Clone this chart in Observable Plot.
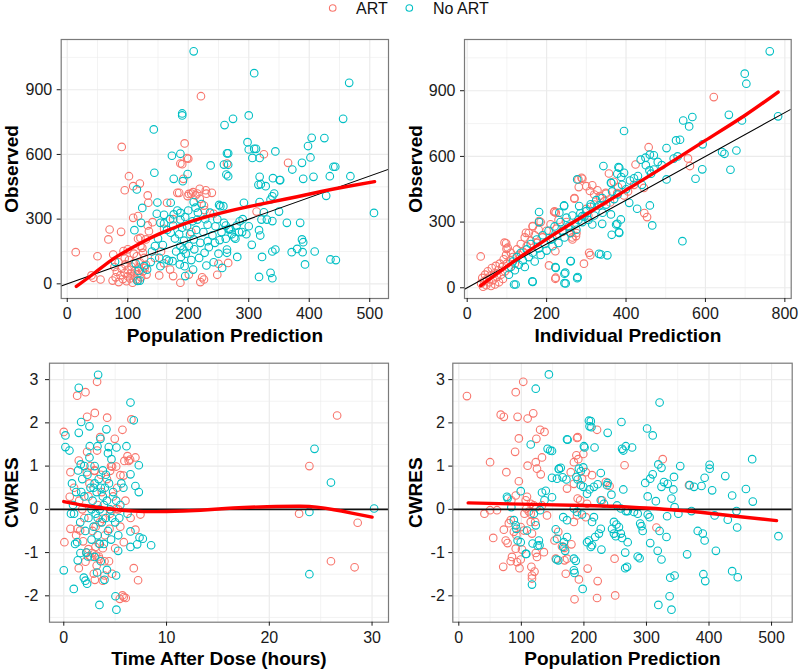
<!DOCTYPE html>
<html><head><meta charset="utf-8">
<script src="https://cdn.jsdelivr.net/npm/d3@7"></script>
<script src="https://cdn.jsdelivr.net/npm/@observablehq/plot@0.6"></script>
<style>
body{margin:0;background:#fff;font-family:"Liberation Sans",Arial,sans-serif;}
#wrap{position:relative;width:800px;height:671px;overflow:hidden;}
.panel{position:absolute;}
#legend{position:absolute;top:0;left:0;}
</style></head><body>
<div id="wrap">
<svg id="legend" width="800" height="22" font-family="Liberation Sans, Arial, sans-serif">
  <circle cx="332.7" cy="8" r="3.3" fill="none" stroke="#F8766D" stroke-width="1.1"></circle>
  <text x="356" y="13.6" font-size="16" fill="#111">ART</text>
  <circle cx="409.3" cy="8" r="3.3" fill="none" stroke="#00BFC4" stroke-width="1.1"></circle>
  <text x="433" y="13.6" font-size="16" fill="#111">No ART</text>
</svg>
</div>
<script>
// ---------- categories / labels ----------
const groups = ["ART", "No ART"];
const groupColors = ["#F8766D", "#00BFC4"];

// ---------- tick values ----------
const obsTicks = [0, 300, 600, 900];
const obsMinor = [150, 450, 750, 1050];
const predTicks = [0, 100, 200, 300, 400, 500];
const predMinor = [50, 150, 250, 350, 450];
const ipredTicks = [0, 200, 400, 600, 800];
const ipredMinor = [100, 300, 500, 700];
const tadTicks = [0, 10, 20, 30];
const tadMinor = [5, 15, 25];
const cwresTicks = [-2, -1, 0, 1, 2, 3];
const cwresMinor = [-2.5, -1.5, -0.5, 0.5, 1.5, 2.5];

// ---------- Panel 1: Observed vs Population Prediction ----------
const p1Art = [[14,147],[50,128],[40,39],[43,28],[55,20],[68,206],[70,252],[89,241],[90,635],[102,499],[95,434],[109,453],[120,465],[133,410],[134,376],[76,136],[93,152],[109,306],[117,314],[117,209],[121,213],[121,175],[124,167],[125,144],[135,244],[133,271],[141,286],[130,206],[152,39],[165,376],[182,422],[185,422],[192,487],[194,651],[187,558],[198,583],[199,407],[205,419],[208,425],[215,419],[219,394],[229,434],[239,422],[221,870],[223,30],[226,20],[187,5],[201,43],[128,74],[131,43],[117,17],[170,66],[175,36],[227,342],[248,42],[250,93],[266,97],[264,558],[313,335],[325,601],[365,561],[190,555],[200,580],[220,8],
[75,15],[80,30],[82,55],[85,8],[88,40],[90,70],[92,22],[95,50],[96,90],[98,12],[100,35],[100,65],[102,110],[104,25],[105,48],[106,80],[108,5],[110,38],[110,95],[112,60],[114,20],[115,128],[116,45],[118,75],[120,100],[122,30],[125,58],[127,120],[130,88],[100,160],[95,118],[110,140],[85,100],[78,78],[155,150],[160,95],[145,120],
[201,417],[212,410],[219,441],[230,418],[226,363],[242,325],[175,300],[160,255],[205,240]];
const p1NoArt = [[209,1078],[190,790],[190,781],[143,716],[260,736],[173,594],[187,603],[199,509],[191,476],[176,487],[144,515],[237,549],[259,553],[264,605],[263,507],[115,438],[149,377],[171,376],[176,322],[187,329],[209,379],[212,353],[251,366],[253,360],[124,352],[122,283],[111,249],[148,325],[154,283],[160,280],[171,237],[187,298],[198,267],[215,298],[232,274],[245,267],[259,283],[252,203],[232,198],[209,206],[201,175],[187,175],[192,159],[164,113],[168,107],[152,121],[174,105],[186,90],[194,82],[195,36],[208,66],[227,144],[242,100],[256,74],[264,159],[116,14],[113,94],[138,101],[79,102],[127,82],[132,66],[154,82],
[309,977],[466,932],[456,765],[274,765],[300,781],[404,677],[425,676],[398,639],[298,657],[300,623],[309,626],[312,626],[306,584],[318,584],[344,614],[266,605],[402,586],[388,561],[372,530],[440,543],[443,543],[468,499],[407,496],[390,487],[434,499],[318,496],[340,490],[351,481],[352,481],[316,459],[320,462],[328,453],[428,408],[266,552],[266,499],[342,419],[339,406],[336,391],[318,379],[292,376],[350,335],[507,329],[363,283],[385,283],[330,298],[339,291],[321,298],[325,332],[267,252],[270,252],[300,267],[317,249],[319,224],[284,240],[289,240],[278,209],[305,181],[322,125],[281,125],[339,150],[344,159],[371,147],[380,162],[388,206],[390,193],[409,150],[389,147],[393,90],[435,113],[444,110],[317,32],[336,51],[339,26],[262,209],[264,144],
[160,320],[165,250],[170,300],[175,270],[178,210],[180,150],[182,340],[185,230],[188,125],[190,260],[193,200],[195,310],[196,140],[200,340],[203,230],[205,110],[207,290],[210,160],[213,250],[216,330],[218,120],[220,190],[222,370],[225,240],[228,300],[230,85],[234,170],[236,330],[240,225],[244,190],[248,300],[250,140],[255,240],[258,360],[262,270],[268,255],[272,230],[276,215],[280,270],[285,290],[290,300],[296,230],[140,150],[145,175],[150,210],[158,180],[118,60],[120,15]];
const p1Smooth = [[15,-12],[44,48],[72,108],[99,155],[127,198],[154,234],[182,266],[209,293],[237,316],[265,336],[300,358],[340,381],[380,404],[420,428],[460,450],[508,474]];

// ---------- Panel 2: Observed vs Individual Prediction ----------
const p2Art = [[34,143],[94,206],[99,178],[220,349],[270,410],[288,502],[281,460],[310,149],[294,110],[222,41],[457,642],[424,563],[445,456],[446,341],[453,323],[621,871],[556,591],[561,556],[357,522],[369,484],[315,468],[328,445],[378,432],[395,422],[206,102],
[98,203],[102,183],[148,251],[165,282],[181,305],[223,343],[222,167],[223,46],[219,346],[270,407],[280,495],[290,498],[300,464],[309,442],[320,426],[334,419],[349,434],[261,251],[274,236],[307,160],[265,221],
[35,20],[38,45],[40,5],[42,30],[45,60],[48,12],[50,40],[52,75],[55,25],[58,55],[60,8],[62,90],[65,35],[68,65],[70,15],[72,100],[75,50],[78,80],[80,25],[82,110],[85,60],[88,95],[90,40],[92,130],[95,75],[98,150],[100,110],[105,90],[108,125],[110,160],[115,140],[120,110],[125,175],[130,150],[135,200],[140,165],[145,230],[150,190],[155,250],[160,215],[165,280],[170,240],[175,205],[180,265],[185,300],[190,230],[200,260],[210,290],[215,225],[225,270],[230,310],[240,255],[250,300],[260,275],[265,230],[275,250],[300,360],[305,330],[320,380],[335,410],[345,395],[350,430],[360,390],[380,460],[405,440],[420,470]];
const p2NoArt = [[762,1080],[699,978],[703,932],[783,783],[659,790],[692,764],[567,780],[544,764],[559,737],[395,716],[593,655],[502,638],[526,673],[536,676],[642,620],[648,612],[678,627],[663,539],[592,541],[575,498],[502,495],[459,536],[463,521],[460,608],[470,605],[437,585],[449,594],[542,213],[460,376],[466,285],[428,361],[378,292],[382,254],[364,242],[332,155],[353,148],[340,292],[315,289],[277,44],[245,21],[245,64],[260,122],[222,94],[164,29],[122,15],[343,556],[381,551],[363,478],[277,495],[244,373],[378,521],[388,506],
[362,480],[383,548],[395,525],[379,426],[375,289],[383,251],[337,152],[261,122],[247,69],[248,20],[278,49],[223,91],[165,27],[118,15],[181,346],[181,300],[244,376],[232,343],[282,373],[290,327],[311,381],[332,376],[341,343],[362,335],[387,312],[408,388],
[105,60],[110,95],[115,120],[120,80],[125,140],[130,105],[135,160],[140,125],[145,95],[150,175],[155,140],[160,200],[165,160],[170,120],[175,220],[180,180],[185,150],[190,240],[195,200],[200,170],[205,260],[210,220],[215,190],[220,280],[225,240],[230,205],[235,300],[240,260],[245,230],[250,320],[255,280],[260,250],[265,330],[270,290],[275,265],[280,310],[285,340],[290,300],[295,325],[300,350],[305,310],[310,370],[320,330],[325,400],[340,410],[350,380],[365,440],[370,405],[390,470],[400,450],[410,490],[420,500],[430,510],[440,470],[450,560],[470,540],[480,575],[490,560],[520,590],[530,600]];
const p2Smooth = [[34,10],[100,98],[200,222],[300,336],[400,446],[500,558],[600,673],[700,788],[783,894]];

// ---------- Panel 3: CWRES vs Time After Dose ----------
const p3Art = [[26.6,2.17],[23.9,1.00],[22.9,-0.10],[28.6,-0.31],[26.0,-1.20],[28.3,-1.34],
[3.24,2.95],[1.30,2.63],[2.11,2.71],[6.58,2.08],[3.02,2.23],[2.27,2.14],[4.22,2.12],[0,1.79],[5.71,1.84],[4.96,1.63],[2.27,1.33],[3.24,1.36],[6.97,1.20],[6.2,1.23],[5.9,1.12],[6.32,1.12],[1.46,1.13],[4.70,0.99],[0.65,0.86],[5.51,0.79],[0.58,0.29],[0.65,-0.45],[7.46,-0.12],[6.97,-0.47],[0.06,-0.76],[1.88,-0.74],[5.84,-0.76],[6.81,-1.36],[7.23,-1.64],[1.46,-1.36],[3.02,-1.63],[2.92,-1.49],[3.96,-1.53],[4.70,-1.49],[5.45,-2.07],[5.84,-2.03],[6.03,-2.05],[5.71,-1.99],[3.96,-1.20],[3.41,-1.09],[2.59,-1.10],[3.08,-0.87],[3.41,-0.79],
[2.24,0.86],[2.99,0.89],[4.51,0.89],[5.1,0.99],[5.81,0.78],[1.33,-0.45],[1.59,-0.49],[2.4,-0.92],[2.76,-1.01],[3.15,-1.07],[3.47,-1.15],[2.11,-1.21],[3.8,-1.65],[4.61,-0.03],[5.1,0.01],[3.8,-0.22],[4.45,-0.45],[6.45,1.15],[3.54,1.67],
[1.0,0.5],[1.5,0.2],[2.0,-0.2],[2.5,0.6],[2.8,-0.5],[3.0,0.9],[3.3,0.1],[3.5,-0.3],[3.7,0.4],[4.0,-0.6],[4.2,0.7],[4.5,-0.1],[4.8,0.3],[5.0,-0.9],[5.2,0.5],[5.5,-0.4],[6.0,0.2],[2.2,-1.0],[2.6,1.0],[3.8,-0.9],[4.4,-1.2],[1.8,0.0],[3.1,-0.4],[4.6,1.0],[2.4,0.3],[3.6,0.8],[1.2,-0.6],[5.3,0.0],[6.5,-0.2],[3.2,-1.3]];
const p3NoArt = [[24.4,1.40],[26.0,0.62],[30.2,0.02],[23.9,-0.06],[23.9,-1.50],
[3.34,3.11],[1.46,2.81],[6.49,2.47],[6.81,2.06],[1.69,2.02],[2.50,1.92],[0.16,1.71],[4.15,1.85],[1.46,1.77],[3.57,1.63],[0.16,1.44],[0.55,1.36],[2.53,1.46],[4.38,1.44],[5.13,1.43],[6.10,1.46],[3.28,1.46],[7.30,1.02],[1.65,1.04],[4.64,1.16],[6.49,0.81],[6.97,0.54],[7.30,0.40],[6.49,-0.51],[7.69,-0.68],[7.14,-0.81],[8.50,-0.83],[1.30,-0.76],[6.49,-0.87],[5.29,-0.96],[1.62,-1.01],[1.36,-1.18],[0,-1.41],[0.97,-1.84],[2.27,-1.72],[1.95,-1.58],[3.24,-1.46],[3.96,-1.63],[5.09,-1.53],[3.47,-2.21],[5.03,-2.01],[5.12,-2.32],[2.34,-1.09],[7.37,-0.65],[2.11,-1.65],
[0.8,0.6],[0.9,0.1],[1.0,-0.1],[1.2,0.4],[1.4,0.9],[1.6,-0.3],[1.8,0.7],[2.0,0.3],[2.1,-0.5],[2.3,0.8],[2.4,-0.2],[2.6,0.5],[2.7,-0.7],[2.8,0.2],[2.9,-0.4],[3.0,0.6],[3.1,-0.1],[3.2,0.4],[3.3,-0.6],[3.4,0.7],[3.5,0.0],[3.6,0.5],[3.7,-0.3],[3.8,0.3],[3.9,-0.8],[4.0,0.5],[4.1,-0.2],[4.2,0.2],[4.3,-0.5],[4.4,0.6],[4.5,0.0],[4.6,-0.7],[4.8,0.4],[5.0,-0.3],[5.1,0.2],[5.3,-0.6],[5.5,0.1],[5.8,0.5],[6.2,-0.1],[0.7,-0.1],[1.1,-0.8],[2.2,-1.0],[3.0,-1.1],[3.6,-1.2],[4.2,-1.4],[2.5,1.2],[3.0,1.0],[3.8,0.9],[4.3,1.3],[2.0,1.0],[2.7,0.0],[3.3,-0.2],[3.9,0.1],[4.7,-0.2],[5.6,0.6],[1.7,0.4],[2.9,0.5],[3.5,-0.8],[4.1,0.8],[5.4,-0.2]];
const p3Smooth = [[0,0.18],[2,0.09],[4.2,0.02],[6.8,-0.04],[10,-0.05],[13.3,-0.02],[16.5,0.03],[19.8,0.06],[23,0.07],[24.6,0.05],[26.3,-0.01],[27.9,-0.08],[30,-0.18]];

// ---------- Panel 4: CWRES vs Population Prediction ----------
const p4Art = [[13,2.62],[103,2.95],[91,2.71],[67,2.19],[72,2.14],[94,2.14],[110,2.10],[119,2.22],[130,1.84],[137,1.79],[124,1.63],[96,1.64],[221,1.84],[189,1.65],[90,1.33],[50,1.09],[110,1.01],[133,1.20],[123,1.09],[125,0.94],[131,0.81],[76,0.86],[96,0.65],[265,1.02],[326,1.16],[368,0.56],[316,-0.42],[249,-1.14],[250,-1.99],[222,-1.66],[221,-2.05],[185,-2.08],[192,-1.62],[206,-1.37],[171,-1.49],[173,-1.14],[169,-1.18],[41,-0.10],[50,-0.02],[55,-0.66],[75,-0.72],[78,-0.78],[71,-1.33],[83,-1.20],[85,-1.10],[97,-1.36],[93,-1.22],[99,-1.16],[101,-0.93],[91,-0.91],[116,-1.33],[117,-1.53],[117,-1.60],[123,-1.01],[125,-1.10],[136,-0.99],[122,-0.29],[155,-1.14],[203,0.86],[213,0.79],[197,0.71],[184,0.59],[179,0.86],[184,1.09],[188,1.25],[173,0.48],[190,0.25],[194,0.21],[205,0.13],[229,0.21],[235,0.63],[241,0.54],[159,-0.52],[153,-0.72],[165,-0.86],[169,-0.89],[180,-0.81],[184,-0.29],[189,-0.14],[203,-0.18],[108,0.02],[112,-0.05],[115,-0.10],[105,-0.10],[107,0.21],[109,0.29],[115,0.13],[120,0.09],[124,0.05],[133,0.09],[91,0.32],[84,0.21],[83,-0.25],[88,-0.52],[92,-0.60],[99,-0.41],[104,-0.49],[117,-0.56],[115,-0.29],[141,-0.14],[61,-0.02],[72,-0.47],[80,-0.32],[190,1.67],[191,1.16],[199,1.28],[121,-1.44]];
const p4NoArt = [[144,3.12],[123,2.79],[321,2.47],[211,2.04],[212,1.90],[260,2.02],[301,1.87],[310,1.71],[238,1.77],[173,1.62],[115,1.50],[142,1.40],[146,1.36],[149,1.35],[200,1.46],[201,1.43],[217,1.43],[261,1.40],[267,1.46],[277,1.43],[263,1.36],[319,1.04],[324,0.96],[354,1.00],[469,1.16],[401,1.03],[401,0.94],[426,0.77],[393,0.73],[388,0.54],[310,0.81],[306,0.71],[298,0.61],[328,0.63],[334,0.59],[344,0.75],[324,0.52],[343,0.46],[369,0.56],[376,0.52],[459,0.47],[437,0.32],[470,0.18],[405,0.44],[302,0.30],[315,0.19],[340,0.25],[345,0.05],[372,-0.04],[351,-0.10],[333,-0.16],[302,-0.12],[305,-0.18],[409,-0.14],[444,-0.04],[430,-0.24],[445,-0.42],[382,-0.50],[390,-0.56],[393,-0.72],[321,-0.50],[292,-0.39],[294,-0.50],[306,-0.78],[332,-0.64],[411,-0.96],[365,-1.04],[318,-0.96],[324,-1.16],[286,-1.09],[289,-1.13],[338,-1.58],[345,-1.53],[337,-2.01],[319,-2.21],[340,-2.32],[391,-1.50],[394,-1.66],[437,-1.43],[446,-1.57],[511,-0.62],[117,-1.74],[108,-1.03],[128,-0.72],[129,-0.83],[123,-0.37],[156,-1.16],[159,-1.18],[155,-0.46],[157,-0.68],[168,-0.76],[173,-0.64],[167,-0.87],[170,-0.96],[184,-1.14],[187,-1.19],[184,-1.41],[185,-1.47],[198,-1.84],[205,-0.76],[208,-0.72],[211,-0.87],[213,-0.83],[218,-0.64],[224,-0.56],[227,-0.45],[228,-0.93],[245,-0.45],[248,-0.56],[251,-0.62],[256,-0.41],[259,-0.56],[261,-0.66],[270,-0.76],[266,-1.00],[269,-1.33],[266,-1.36],[248,-0.29],[252,-0.35],[290,-0.33],[280,-0.06],[286,-0.10],[270,-0.04],[259,0.02],[267,-0.04],[192,0.94],[195,0.88],[199,0.97],[160,0.94],[163,0.96],[149,0.73],[157,0.71],[172,0.69],[188,0.75],[190,0.69],[195,0.56],[199,0.52],[205,0.36],[209,0.46],[216,0.52],[222,0.58],[227,0.84],[238,0.61],[237,0.56],[244,0.34],[253,0.09],[263,0.46],[232,0.13],[227,0.21],[167,-0.18],[173,-0.25],[184,0.02],[189,-0.06],[197,-0.12],[216,-0.18],[213,-0.29],[84,0.05],[77,0.29],[99,0.42],[88,-0.25],[91,-0.37],[92,-0.45],[94,-0.72],[99,-0.76],[109,-0.49],[120,-0.10],[130,-0.02],[137,0.21],[133,0.39],[78,0.25],[118,-0.79],[126,-0.84],[107,-1.03],[139,0.43],[149,0.28],[160,0.93],[166,0.74],[174,1.61],[208,2.05],[209,1.92]];
const p4Smooth = [[15,0.15],[100,0.12],[200,0.09],[250,0.07],[300,0.03],[350,-0.02],[400,-0.09],[450,-0.17],[508,-0.26]];

// ---------- panel layout ----------
const panels = [
  {left:0, top:30, width:400, height:320, m:[9,12,52,60.7], xDomain:[-10,531], yDomain:[-68,1133],
   xTicks:predTicks, xMinor:predMinor, yTicks:obsTicks, yMinor:obsMinor, art:p1Art, noArt:p1NoArt, smooth:p1Smooth,
   ref:"identity", xLabel:"Population Prediction", yLabel:"Observed", yTitleDx:-49.7, yPad:5},
  {left:400, top:30, width:400, height:320, m:[9,9.3,52,64], xDomain:[-6.8,816], yDomain:[-49,1134],
   xTicks:ipredTicks, xMinor:ipredMinor, yTicks:obsTicks, yMinor:obsMinor, art:p2Art, noArt:p2NoArt, smooth:p2Smooth,
   ref:"identity", xLabel:"Individual Prediction", yLabel:"Observed", yTitleDx:-49, yPad:5},
  {left:0, top:350, width:400, height:321, m:[12.7,12,49.3,49], xDomain:[-1.39,31.6], yDomain:[-2.61,3.38],
   xTicks:tadTicks, xMinor:tadMinor, yTicks:cwresTicks, yMinor:cwresMinor, art:p3Art, noArt:p3NoArt, smooth:p3Smooth,
   ref:"zero", xLabel:"Time After Dose (hours)", yLabel:"CWRES", yTitleDx:-38, yPad:7},
  {left:400, top:350, width:400, height:321, m:[12.7,8.3,49.3,52.3], xDomain:[-9.6,533], yDomain:[-2.61,3.38],
   xTicks:predTicks, xMinor:predMinor, yTicks:cwresTicks, yMinor:cwresMinor, art:p4Art, noArt:p4NoArt, smooth:p4Smooth,
   ref:"zero", xLabel:"Population Prediction", yLabel:"CWRES", yTitleDx:-37.3, yPad:4}
];

const toRows = (arr, g) => arr.map(([x, y]) => ({x, y, group: g}));
const wrap = document.getElementById("wrap");

for (const p of panels) {
  const rows = [...toRows(p.art, groups[0]), ...toRows(p.noArt, groups[1])];
  const smooth = p.smooth.map(([x, y]) => ({x, y}));
  const refMark = p.ref === "identity"
    ? Plot.line(p.xDomain.map(v => ({x: v, y: v})), {x: "x", y: "y", stroke: "#000", strokeWidth: 1.1, clip: true})
    : Plot.ruleY([0], {stroke: "#111", strokeWidth: 1.8});
  const chart = Plot.plot({
    width: p.width, height: p.height,
    marginTop: p.m[0], marginRight: p.m[1], marginBottom: p.m[2], marginLeft: p.m[3],
    style: {fontFamily: "Liberation Sans, Arial, sans-serif", fontSize: "16px", background: "#fff", color: "#1a1a1a"},
    x: {domain: p.xDomain, axis: null},
    y: {domain: p.yDomain, axis: null},
    color: {domain: groups, range: groupColors},
    marks: [
      Plot.gridX(p.xMinor, {stroke: "#ebebeb", strokeOpacity: 1, strokeWidth: 0.6}),
      Plot.gridY(p.yMinor, {stroke: "#ebebeb", strokeOpacity: 1, strokeWidth: 0.6}),
      Plot.gridX(p.xTicks, {stroke: "#ebebeb", strokeOpacity: 1, strokeWidth: 1.2}),
      Plot.gridY(p.yTicks, {stroke: "#ebebeb", strokeOpacity: 1, strokeWidth: 1.2}),
      Plot.dot(rows, {x: "x", y: "y", stroke: "group", r: 3.8, strokeWidth: 1.1, fill: "none"}),
      refMark,
      Plot.line(smooth, {x: "x", y: "y", stroke: "#ff0000", strokeWidth: 3.4, curve: "natural"}),
      Plot.frame({stroke: "#7a7a7a", strokeWidth: 1.2}),
      Plot.axisX(p.xTicks, {tickSize: 4, tickPadding: 5.5, fontSize: 16, color: "#1a1a1a", label: null, tickFormat: d => String(d)}),
      Plot.axisY(p.yTicks, {tickSize: 4, tickPadding: p.yPad, fontSize: 16, color: "#1a1a1a", label: null, tickFormat: d => String(d)}),
      Plot.text([p.xLabel], {text: d => d, frameAnchor: "bottom", dy: 37, lineAnchor: "middle", textAnchor: "middle", fontSize: 19, fontWeight: "bold", fill: "#000"}),
      Plot.text([p.yLabel], {text: d => d, frameAnchor: "left", dx: p.yTitleDx, rotate: -90, lineAnchor: "middle", textAnchor: "middle", fontSize: 19, fontWeight: "bold", fill: "#000"})
    ]
  });
  chart.classList.add("panel");
  chart.style.left = p.left + "px";
  chart.style.top = p.top + "px";
  wrap.appendChild(chart);
}
</script>
</body></html>
